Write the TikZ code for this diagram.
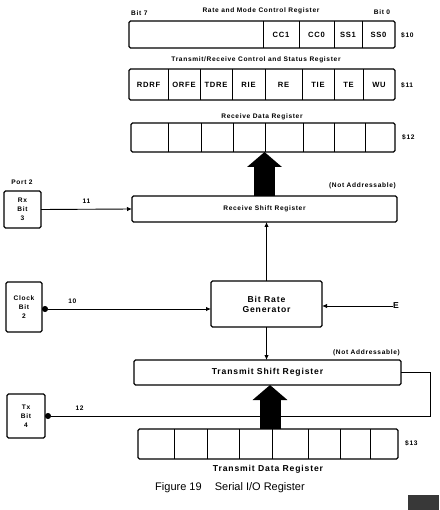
\documentclass[tikz,border=0pt]{standalone}
\usepackage{fontspec}
\setmainfont{Liberation Sans}
\newfontfamily\tagfont[LetterSpace=10]{Liberation Sans}
\usetikzlibrary{arrows.meta,calc}

\tikzset{
  reg/.style={draw, line width=1.3pt, rounded corners=1.5pt, inner sep=0pt, outer sep=0pt},
  cellline/.style={line width=0.9pt},
  small/.style={font=\tagfont\fontsize{6.6}{7.5}\selectfont\bfseries, inner sep=0pt},
  cell/.style={font=\tagfont\fontsize{7.6}{8}\selectfont\bfseries, inner sep=0pt},
  pin/.style={font=\tagfont\fontsize{6.6}{9}\selectfont\bfseries, inner sep=0pt, align=center},
  big/.style={font=\tagfont\fontsize{8.6}{10}\selectfont\bfseries, inner sep=0pt, align=center},
  wire/.style={line width=0.9pt},
  tip/.style={-{Latex[length=5pt,width=4.5pt]}},
  dottip/.style={{Circle[length=6pt]}-{Latex[length=5pt,width=4.5pt]}},
  dotend/.style={{Circle[length=6pt]}-},
  fat/.style={line width=21pt, -{Triangle[length=15pt,width=34pt]}},
}

% box from corner (#3,#4) to corner (#5,#6), named #2
\newcommand\boxat[6][reg]{%
  \node[#1, minimum width={#5-#3}, minimum height={#6-#4}] (#2) at ({(#3+#5)/2},{(#4+#6)/2}) {};}

\begin{document}
\begin{tikzpicture}[x=1pt,y=-1pt]
\useasboundingbox (0,0) rectangle (439,510);

% ---------- $10 : rate and mode control register
\boxat{r10}{129}{21}{395}{48}
\foreach \xx in {263,299,334,362} \draw[cellline] (\xx,21) -- (\xx,48);
\foreach \xx/\tt [count=\i] in {281/CC1,316.5/CC0,348/SS1,378.5/SS0}
  \node[cell] (r10c\i) at (\xx,35) {\tt};
\node[small, anchor=west] (bit7) at (131,13) {Bit 7};
\node[small] (r10t) at (261,11) {Rate and Mode Control Register};
\node[small] (bit0) at (382,12) {Bit 0};
\node[small, anchor=west] (a10) at (401,35) {\$10};

% ---------- $11 : transmit/receive control and status register
\node[small] (r11t) at (256,60) {Transmit/Receive Control and Status Register};
\boxat{r11}{129}{69}{395}{100}
\foreach \xx in {168,200,232,265,302,334,363} \draw[cellline] (\xx,69) -- (\xx,100);
\foreach \xx/\tt [count=\i] in {148.5/RDRF,184/ORFE,216/TDRE,248.5/RIE,283.5/RE,318/TIE,348.5/TE,379/WU}
  \node[cell] (r11c\i) at (\xx,85) {\tt};
\node[small, anchor=west] (a11) at (401,85) {\$11};

% ---------- $12 : receive data register
\node[small] (r12t) at (262,117) {Receive Data Register};
\boxat{r12}{131}{123}{395}{152}
\foreach \xx in {168,201,233,265,303,334,365} \draw[cellline] (\xx,123) -- (\xx,152);
\node[small, anchor=west] (a12) at (402,137) {\$12};

% ---------- receive shift register
\node[small, anchor=east] (na1) at (396,186) {(Not Addressable)};
\boxat{rsr}{132}{196}{397}{222}
\node[small] (rsrt) at (rsr) {Receive Shift Register};

% ---------- port 2 pins
\node[small] (port) at (22,182) {Port 2};
\boxat{rx}{4}{191}{41}{228}
\node[pin] (rxt) at (rx) {Rx\\Bit\\3};
\boxat{clk}{6}{282}{42}{332}
\node[pin] (clkt) at (clk) {Clock\\Bit\\2};
\boxat{tx}{7}{394}{45}{438}
\node[pin] (txt) at (tx) {Tx\\Bit\\4};

% ---------- bit rate generator
\boxat{brg}{211}{281}{322}{327}
\node[big] (brgt) at (brg) {Bit Rate\\Generator};
\coordinate (e) at (393,306);
\node[big, anchor=west] (et) at (e) {E};

% ---------- transmit shift register
\node[small, anchor=east] (na2) at (400,353) {(Not Addressable)};
\boxat{tsr}{134}{360}{401}{385}
\node[big] (tsrt) at (tsr) {Transmit Shift Register};

% ---------- $13 : transmit data register
\boxat{tdr}{138}{429}{398}{459}
\foreach \xx in {174,207,239,272,308,340,370} \draw[cellline] (\xx,429) -- (\xx,459);
\node[small, anchor=west] (a13) at (405,443) {\$13};
\node[big] (tdrt) at (268,469) {Transmit Data Register};

% ---------- connectors
\draw[wire, tip] (rx.east) -- node[small, above=5pt] (l11) {11} (rsr.west);
\draw[wire, dottip] (clk.east |- 0,309) -- node[small, pos=0.18, above=5pt] (l10) {10} (brg.west |- 0,309);
\draw[wire, tip] (e) -- (brg.east |- e);
\draw[wire, tip] (brg.north) -- (brg.north |- rsr.south);
\draw[wire, tip] (brg.south) -- (brg.south |- tsr.north);
\draw[wire, dotend] (tx.east) -- node[small, pos=0.09, above=5pt] (l12) {12} ++(385,0) |- (tsr.east);

% ---------- parallel transfers
\draw[fat] (rsr.north) -- (rsr.north |- r12.south);
\draw[fat] ($(tdr.north)+(2,0)$) -- ($(tdr.north |- tsr.south)+(2,0)$);

% ---------- caption
\node[font=\fontsize{11}{13}\selectfont, inner sep=0pt] (cap) at (230,488) {Figure 19\hspace{1.2em}Serial I/O Register};
\node[fill=black!78, minimum width=31pt, minimum height=15pt, inner sep=0pt, anchor=south east] (corner) at (439,510) {};
\end{tikzpicture}
\end{document}
